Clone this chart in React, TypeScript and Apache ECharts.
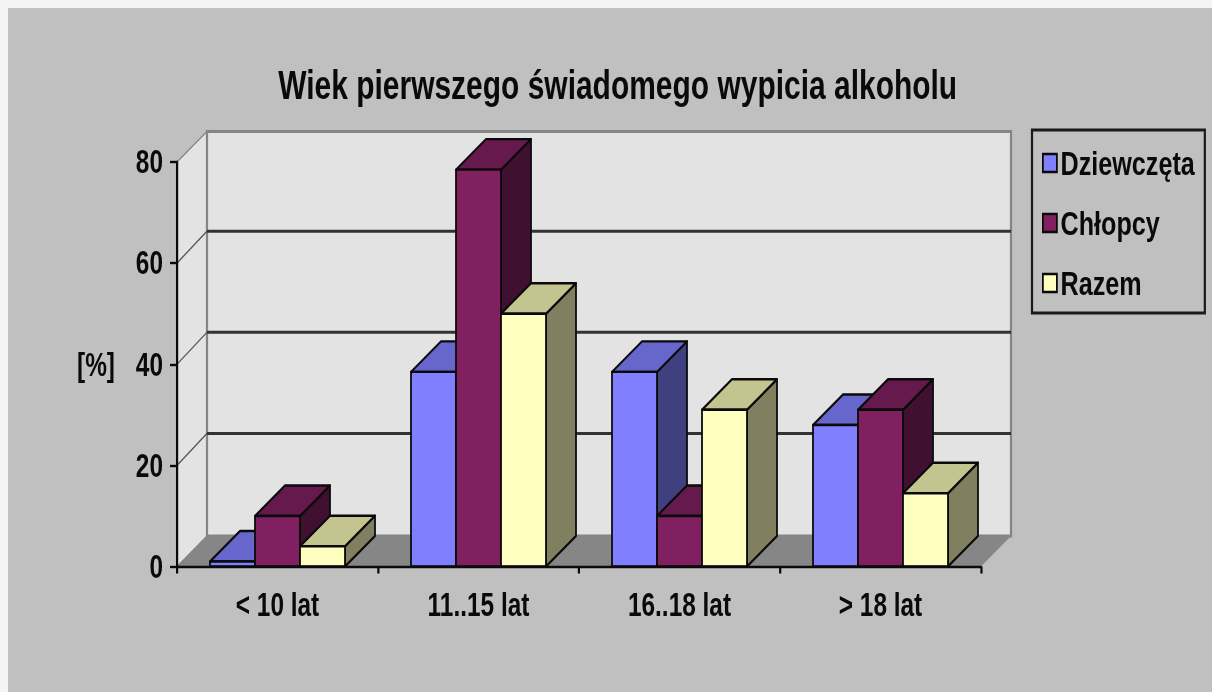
import React, { useEffect, useRef } from "react";
import * as echarts from "echarts";

const categories = ["< 10 lat", "11..15 lat", "16..18 lat", "> 18 lat"];
const dziewczeta = [1, 38.5, 38.5, 28];
const chlopcy = [10, 78.5, 10, 31];
const razem = [4, 50, 31, 14.5];
const yTicks = [0, 20, 40, 60, 80];
const titleText = "Wiek pierwszego świadomego wypicia alkoholu";
const FONT = "'Liberation Sans', Arial, sans-serif";
// The reference has narrow lettering: the chart is laid out wider and squeezed horizontally as a whole.
const SX = 0.74;
const px = (x: number) => x / SX;
const DEPTH_X = px(30);
const DEPTH_Y = 30.5;
const GRID_DEPTH = 32;
const BAR = px(45);

function wallItem(_: any, api: any) {
  const band = api.size([1, 0])[0];
  const x0 = api.coord([0, 0])[0] - band / 2;
  const x1 = api.coord([categories.length - 1, 0])[0] + band / 2;
  const y0 = api.coord([0, 0])[1];
  const yTop = api.coord([0, yTicks[yTicks.length - 1]])[1];
  const children: any[] = [
    { type: "polygon", shape: { points: [[x0, yTop], [x0 + DEPTH_X, yTop - DEPTH_Y], [x0 + DEPTH_X, y0 - DEPTH_Y], [x0, y0]] }, style: { fill: "#e3e3e3", stroke: "#808080", lineWidth: 1.5 } },
    { type: "rect", shape: { x: x0 + DEPTH_X, y: yTop - DEPTH_Y, width: x1 - x0, height: y0 - yTop }, style: { fill: "#e3e3e3", stroke: "#858585", lineWidth: 3 } },
    { type: "polygon", shape: { points: [[x0, y0], [x1, y0], [x1 + DEPTH_X, y0 - DEPTH_Y], [x0 + DEPTH_X, y0 - DEPTH_Y]] }, style: { fill: "#868686" } },
  ];
  yTicks.slice(1, -1).forEach((v) => {
    const y = api.coord([0, v])[1];
    children.push({ type: "line", shape: { x1: x0, y1: y, x2: x0 + DEPTH_X, y2: y - GRID_DEPTH }, style: { stroke: "#555", lineWidth: 1.5 } });
    children.push({ type: "line", shape: { x1: x0 + DEPTH_X, y1: y - GRID_DEPTH, x2: x1 + DEPTH_X, y2: y - GRID_DEPTH }, style: { stroke: "#333", lineWidth: 3 } });
  });
  return { type: "group", children };
}

function barRenderer(slot: number, front: string, top: string, side: string) {
  return (_: any, api: any) => {
    const p = api.coord([api.value(0), api.value(1)]);
    const base = api.coord([api.value(0), 0]);
    const xl = p[0] + (slot - 0.5) * BAR;
    const xr = xl + BAR;
    const yt = p[1];
    const yb = base[1];
    const stroke = { stroke: "#0a0a0a", lineWidth: 2.4, lineJoin: "round" };
    return {
      type: "group",
      children: [
        { type: "polygon", shape: { points: [[xr, yt], [xr + DEPTH_X, yt - DEPTH_Y], [xr + DEPTH_X, yb - DEPTH_Y], [xr, yb]] }, style: { fill: side, ...stroke } },
        { type: "polygon", shape: { points: [[xl, yt], [xl + DEPTH_X, yt - DEPTH_Y], [xr + DEPTH_X, yt - DEPTH_Y], [xr, yt]] }, style: { fill: top, ...stroke } },
        { type: "rect", shape: { x: xl, y: yt, width: BAR, height: yb - yt }, style: { fill: front, ...stroke } },
      ],
    };
  };
}

const toData = (vals: number[]) => vals.map((v, i) => [i, v]);

export default function App() {
  const ref = useRef<HTMLDivElement>(null);
  useEffect(() => {
    document.body.style.background = "#f4f4f2";
    document.documentElement.style.overflow = "hidden";
    document.body.style.overflow = "hidden";
    const chart = echarts.init(ref.current!, undefined, { renderer: "svg", width: px(1204), height: 684 });
    const labelStyle = { color: "#0a0a0a", fontFamily: FONT, fontWeight: "bold" as const };
    const legendBorder = { borderColor: "#0a0a0a", borderWidth: 2.4 };
    chart.setOption({
      animation: false,
      backgroundColor: "#c0c0c0",
      title: {
        text: titleText,
        left: px(606),
        top: 52,
        textAlign: "center",
        textStyle: { ...labelStyle, fontSize: 40.5 },
      },
      legend: {
        data: [
          { name: "Dziewczęta", itemStyle: legendBorder },
          { name: "Chłopcy", itemStyle: legendBorder },
          { name: "Razem", itemStyle: legendBorder },
        ],
        orient: "vertical",
        left: px(1024),
        top: 122,
        icon: "rect",
        itemWidth: px(14),
        itemHeight: 18,
        itemGap: 26,
        padding: [16, px(10), 13, px(10)],
        borderColor: "#1a1a1a",
        borderWidth: 3,
        textStyle: { ...labelStyle, fontSize: 34, padding: [0, 0, 0, 0] },
      },
      grid: { left: px(169), top: 154, width: px(804), height: 404.5 },
      xAxis: {
        type: "category",
        data: categories,
        z: 5,
        axisLine: { lineStyle: { color: "#0a0a0a", width: 2.4 } },
        axisTick: { show: true, length: 7, lineStyle: { color: "#0a0a0a", width: 3 } },
        axisLabel: { ...labelStyle, fontSize: 33, margin: 22 },
      },
      yAxis: {
        type: "value",
        min: 0,
        max: 80,
        interval: 20,
        z: 5,
        name: "[%]",
        nameLocation: "middle",
        nameRotate: 0,
        nameGap: px(62),
        nameTextStyle: { ...labelStyle, fontSize: 33, align: "right" },
        splitLine: { show: false },
        axisLine: { show: true, lineStyle: { color: "#0a0a0a", width: 3 } },
        axisTick: { show: true, length: px(7), lineStyle: { color: "#0a0a0a", width: 2.4 } },
        axisLabel: { ...labelStyle, fontSize: 33, margin: px(14) },
      },
      series: [
        { type: "custom", name: "walls", silent: true, z: 1, data: [[0, 0]], encode: { x: 0, y: 1 }, renderItem: wallItem },
        { type: "custom", name: "Dziewczęta", z: 2, itemStyle: { color: "#8080ff" }, data: toData(dziewczeta), encode: { x: 0, y: 1 }, renderItem: barRenderer(-1, "#8080ff", "#6666cc", "#404080") },
        { type: "custom", name: "Chłopcy", z: 2, itemStyle: { color: "#802060" }, data: toData(chlopcy), encode: { x: 0, y: 1 }, renderItem: barRenderer(0, "#802060", "#66194d", "#401030") },
        { type: "custom", name: "Razem", z: 2, itemStyle: { color: "#ffffc0" }, data: toData(razem), encode: { x: 0, y: 1 }, renderItem: barRenderer(1, "#ffffc0", "#c4c490", "#808060") },
      ],
    });
    return () => chart.dispose();
  }, []);
  return (
    <div style={{ position: "absolute", left: 8, top: 8, width: 1204, height: 684, overflow: "hidden" }}>
      <div ref={ref} style={{ width: px(1204), height: 684, transform: `scaleX(${SX})`, transformOrigin: "0 0", filter: "blur(0.5px)" }} />
    </div>
  );
}
